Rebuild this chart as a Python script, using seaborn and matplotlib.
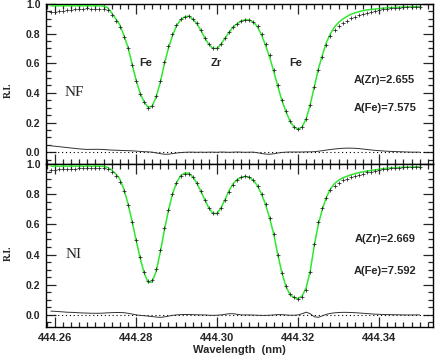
import numpy as np
import pandas as pd
import matplotlib
matplotlib.use("Agg")
import matplotlib.pyplot as plt
import seaborn as sns
from matplotlib.ticker import MultipleLocator, FormatStrFormatter

# ---------------- data ----------------
wave_start = 444.259
wave_step = 0.001
n_pts = 92
wavelength = np.round(wave_start + wave_step * np.arange(n_pts), 4)

# NF panel
nf_model = [0.988, 0.988, 0.988, 0.988, 0.988, 0.988, 0.988, 0.988, 0.988, 0.988,
            0.988, 0.988, 0.988, 0.986, 0.975, 0.940, 0.900, 0.860, 0.790, 0.710,
            0.600, 0.490, 0.400, 0.340, 0.303, 0.310, 0.375, 0.470, 0.595, 0.700,
            0.785, 0.853, 0.893, 0.914, 0.918, 0.898, 0.868, 0.823, 0.770, 0.727,
            0.700, 0.700, 0.730, 0.770, 0.810, 0.845, 0.868, 0.886, 0.894, 0.892,
            0.878, 0.845, 0.790, 0.720, 0.640, 0.545, 0.445, 0.350, 0.275, 0.210,
            0.170, 0.155, 0.170, 0.225, 0.320, 0.440, 0.560, 0.655, 0.740, 0.800,
            0.845, 0.875, 0.898, 0.915, 0.930, 0.940, 0.948, 0.955, 0.960, 0.963,
            0.966, 0.969, 0.972, 0.974, 0.976, 0.977, 0.978, 0.979, 0.980, 0.981,
            0.982, 0.982]
nf_obs = [0.945, 0.948, 0.951, 0.954, 0.957, 0.960, 0.963, 0.966, 0.968, 0.970,
          0.969, 0.969, 0.969, 0.968, 0.959, 0.926, 0.887, 0.848, 0.779, 0.700,
          0.591, 0.483, 0.395, 0.337, 0.301, 0.310, 0.380, 0.480, 0.609, 0.714,
          0.795, 0.859, 0.896, 0.915, 0.918, 0.898, 0.869, 0.823, 0.771, 0.727,
          0.700, 0.701, 0.729, 0.770, 0.811, 0.845, 0.867, 0.886, 0.895, 0.892,
          0.878, 0.849, 0.799, 0.733, 0.654, 0.556, 0.451, 0.352, 0.275, 0.209,
          0.169, 0.154, 0.169, 0.223, 0.318, 0.437, 0.554, 0.645, 0.726, 0.782,
          0.824, 0.851, 0.872, 0.888, 0.903, 0.914, 0.924, 0.934, 0.942, 0.948,
          0.954, 0.959, 0.964, 0.968, 0.971, 0.973, 0.975, 0.977, 0.979, 0.981,
          0.982, 0.982]

# NI panel
ni_model = [0.986, 0.986, 0.986, 0.986, 0.986, 0.986, 0.986, 0.986, 0.986, 0.986,
            0.986, 0.986, 0.986, 0.985, 0.978, 0.960, 0.935, 0.900, 0.835, 0.740,
            0.625, 0.500, 0.380, 0.280, 0.215, 0.218, 0.290, 0.415, 0.560, 0.690,
            0.800, 0.875, 0.922, 0.940, 0.940, 0.915, 0.875, 0.820, 0.762, 0.708,
            0.672, 0.672, 0.710, 0.765, 0.825, 0.870, 0.898, 0.912, 0.918, 0.912,
            0.892, 0.855, 0.800, 0.730, 0.640, 0.535, 0.400, 0.280, 0.190, 0.135,
            0.115, 0.108, 0.125, 0.180, 0.290, 0.460, 0.600, 0.700, 0.780, 0.835,
            0.870, 0.893, 0.908, 0.918, 0.928, 0.936, 0.943, 0.948, 0.953, 0.957,
            0.961, 0.965, 0.969, 0.972, 0.974, 0.976, 0.977, 0.978, 0.979, 0.980,
            0.981, 0.981]
ni_obs = [0.961, 0.962, 0.964, 0.966, 0.968, 0.969, 0.970, 0.972, 0.973, 0.974,
          0.975, 0.975, 0.975, 0.973, 0.964, 0.945, 0.919, 0.884, 0.820, 0.729,
          0.619, 0.499, 0.383, 0.285, 0.223, 0.229, 0.304, 0.431, 0.573, 0.698,
          0.803, 0.875, 0.920, 0.937, 0.937, 0.913, 0.874, 0.820, 0.762, 0.710,
          0.675, 0.674, 0.710, 0.761, 0.817, 0.862, 0.894, 0.912, 0.918, 0.912,
          0.893, 0.857, 0.803, 0.733, 0.642, 0.535, 0.398, 0.278, 0.190, 0.137,
          0.117, 0.108, 0.117, 0.162, 0.282, 0.472, 0.616, 0.706, 0.776, 0.825,
          0.856, 0.877, 0.891, 0.901, 0.912, 0.921, 0.930, 0.937, 0.944, 0.950,
          0.956, 0.961, 0.966, 0.970, 0.972, 0.975, 0.976, 0.978, 0.979, 0.980,
          0.981, 0.981]

line_labels = ["Fe", "Zr", "Fe"]
line_centers = [444.2824, 444.2998, 444.3194]
panel_names = ["NF", "NI"]
abund_zr = ["2.655", "2.669"]
abund_fe = ["7.575", "7.592"]
xticks = [444.26, 444.28, 444.30, 444.32, 444.34]

# ---------------- style ----------------
sns.set_theme(style="ticks")
plt.rcParams["font.family"] = ["Liberation Sans", "DejaVu Sans"]
plt.rcParams["font.weight"] = "bold"

fig = plt.figure(figsize=(4.36, 3.55), dpi=100)
ax_top = fig.add_axes([46 / 436, 1 - 164 / 355, 387 / 436, 160 / 355])
ax_bot = fig.add_axes([46 / 436, 1 - 327 / 355, 387 / 436, 163 / 355])

GREEN = "#2ee82e"


def draw_panel(ax, model, obs, name, zr, fe, label_y, zr_y, fe_y, show_lines):
    df = pd.DataFrame({"wavelength": wavelength, "model": model, "obs": obs})
    df["resid"] = df["model"] - df["obs"]
    ax.axhline(0.0, color="black", lw=0.8, ls=(0, (1, 2.5)), zorder=1)
    sns.lineplot(data=df, x="wavelength", y="resid", ax=ax, color="#333333",
                 lw=0.7, estimator=None, sort=False, zorder=2)
    sns.lineplot(data=df, x="wavelength", y="model", ax=ax, color=GREEN,
                 lw=1.1, estimator=None, sort=False, zorder=3)
    sns.scatterplot(data=df, x="wavelength", y="obs", ax=ax, marker="+",
                    color="#222222", s=12, linewidth=0.55, zorder=4)
    ax.set_xlim(444.2578, 444.3533)
    ax.set_ylim(-0.08, 1.0)
    ax.xaxis.set_major_locator(MultipleLocator(0.02))
    ax.xaxis.set_minor_locator(MultipleLocator(0.002))
    ax.yaxis.set_major_locator(MultipleLocator(0.2))
    ax.yaxis.set_minor_locator(MultipleLocator(0.05))
    ax.xaxis.set_major_formatter(FormatStrFormatter("%.2f"))
    ax.yaxis.set_major_formatter(FormatStrFormatter("%.1f"))
    ax.tick_params(which="both", direction="in", top=True, right=True,
                   width=0.9, labelsize=7.5, pad=4)
    ax.tick_params(axis="x", labelsize=8)
    ax.tick_params(which="major", length=7)
    ax.tick_params(which="minor", length=3.5)
    for sp in ax.spines.values():
        sp.set_linewidth(1.0)
        sp.set_color("black")
    ax.set_xlabel("")
    ax.set_ylabel("")
    ax.text(444.2647, label_y, name, fontsize=11, family="Liberation Serif",
            fontweight="normal", ha="center", va="center")
    ax.text(444.3414, zr_y, f"A(Zr)={zr}", fontsize=8, ha="center", va="center",
            fontweight="bold")
    ax.text(444.3414, fe_y, f"A(Fe)={fe}", fontsize=8, ha="center", va="center",
            fontweight="bold")
    if show_lines:
        for lab, wc in zip(line_labels, line_centers):
            ax.text(wc, 0.60, lab, fontsize=8, ha="center", va="center",
                    fontweight="bold")


draw_panel(ax_top, nf_model, nf_obs, panel_names[0], abund_zr[0], abund_fe[0],
           0.40, 0.49, 0.30, True)
draw_panel(ax_bot, ni_model, ni_obs, panel_names[1], abund_zr[1], abund_fe[1],
           0.40, 0.50, 0.29, False)

ax_top.tick_params(labelbottom=False)
ax_bot.set_xticks(xticks)
ax_bot.set_xticklabels([f"{t:.2f}" for t in xticks])
ax_bot.set_xlabel("Wavelength  (nm)", fontsize=8, fontweight="bold", labelpad=2)

fig.text(8 / 436, 1 - 90 / 355, "R.I.", rotation=90, ha="center", va="center",
         fontsize=7, family="Liberation Serif", fontweight="bold")
fig.text(8 / 436, 1 - 253 / 355, "R.I.", rotation=90, ha="center", va="center",
         fontsize=7, family="Liberation Serif", fontweight="bold")

fig.savefig("out.png", dpi=100)
